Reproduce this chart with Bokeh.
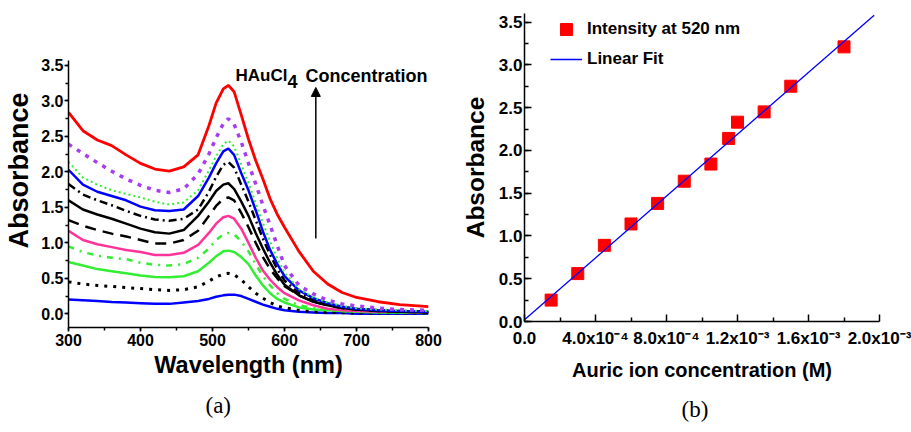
import math
from bokeh.plotting import figure
from bokeh.layouts import row, column
from bokeh.models import (Label, Arrow, NormalHead, SingleIntervalTicker, FixedTicker,
                          NumeralTickFormatter, CustomJSTickFormatter, Title)
from bokeh.embed import file_html
from bokeh.resources import INLINE

# ---------------- data: panel (a) UV-vis spectra ----------------
wavelength = [300, 320, 340, 360, 380, 400, 420, 440, 460, 480, 495, 505, 515, 522, 530,
              540, 550, 560, 570, 580, 590, 600, 620, 640, 660, 680, 700, 730, 760, 800]

abs_blue_low = [0.20, 0.19, 0.18, 0.165, 0.16, 0.15, 0.14, 0.14, 0.16, 0.18, 0.21, 0.24, 0.26, 0.27, 0.27,
                0.25, 0.21, 0.17, 0.13, 0.10, 0.07, 0.05, 0.03, 0.02, 0.01, 0.01, 0.0, 0.0, 0.0, 0.0]
abs_black_dot = [0.45, 0.42, 0.40, 0.385, 0.37, 0.355, 0.34, 0.33, 0.34, 0.38, 0.46, 0.52, 0.56, 0.57, 0.55,
                 0.48, 0.38, 0.29, 0.22, 0.16, 0.11, 0.085, 0.05, 0.03, 0.02, 0.015, 0.01, 0.01, 0.01, 0.01]
abs_green = [0.73, 0.68, 0.63, 0.60, 0.57, 0.54, 0.52, 0.515, 0.53, 0.60, 0.72, 0.81, 0.88, 0.89, 0.87,
             0.80, 0.70, 0.54, 0.40, 0.29, 0.21, 0.16, 0.09, 0.06, 0.05, 0.04, 0.03, 0.02, 0.02, 0.01]
abs_green_dashdot = [0.95, 0.87, 0.82, 0.79, 0.77, 0.72, 0.69, 0.68, 0.70, 0.79, 0.92, 1.04, 1.12, 1.14, 1.12,
                     1.02, 0.88, 0.70, 0.53, 0.40, 0.29, 0.21, 0.12, 0.08, 0.06, 0.04, 0.03, 0.03, 0.02, 0.02]
abs_pink = [1.17, 1.04, 0.98, 0.94, 0.90, 0.87, 0.83, 0.83, 0.86, 0.97, 1.14, 1.27, 1.36, 1.38, 1.34,
            1.20, 1.00, 0.79, 0.61, 0.48, 0.375, 0.29, 0.19, 0.12, 0.07, 0.05, 0.04, 0.03, 0.03, 0.02]
abs_black_dash = [1.32, 1.24, 1.18, 1.13, 1.09, 1.04, 0.99, 0.99, 1.04, 1.17, 1.38, 1.52, 1.62, 1.64, 1.60,
                  1.42, 1.22, 1.00, 0.80, 0.63, 0.50, 0.39, 0.26, 0.17, 0.12, 0.08, 0.06, 0.04, 0.03, 0.02]
abs_black = [1.60, 1.47, 1.40, 1.34, 1.27, 1.20, 1.15, 1.13, 1.18, 1.38, 1.58, 1.73, 1.82, 1.84, 1.76,
             1.58, 1.38, 1.14, 0.92, 0.72, 0.55, 0.41, 0.26, 0.17, 0.12, 0.08, 0.06, 0.04, 0.03, 0.02]
abs_black_dashdot = [1.83, 1.68, 1.60, 1.53, 1.45, 1.38, 1.33, 1.31, 1.34, 1.47, 1.72, 1.93, 2.10, 2.14, 2.06,
                     1.82, 1.58, 1.32, 1.06, 0.83, 0.63, 0.47, 0.29, 0.19, 0.13, 0.09, 0.07, 0.05, 0.04, 0.03]
abs_blue = [2.03, 1.82, 1.72, 1.66, 1.60, 1.51, 1.46, 1.45, 1.47, 1.66, 1.92, 2.12, 2.29, 2.33, 2.24,
            1.98, 1.74, 1.46, 1.16, 0.90, 0.70, 0.53, 0.33, 0.22, 0.15, 0.10, 0.07, 0.05, 0.04, 0.03]
abs_green_dot = [2.14, 1.92, 1.82, 1.74, 1.69, 1.64, 1.58, 1.54, 1.57, 1.74, 2.02, 2.22, 2.39, 2.44, 2.36,
                 2.10, 1.84, 1.56, 1.28, 1.02, 0.78, 0.58, 0.35, 0.23, 0.16, 0.11, 0.08, 0.06, 0.05, 0.04]
abs_purple_dot = [2.39, 2.26, 2.13, 2.01, 1.90, 1.81, 1.74, 1.71, 1.76, 1.97, 2.25, 2.48, 2.68, 2.75, 2.67,
                  2.42, 2.12, 1.83, 1.53, 1.25, 0.96, 0.68, 0.40, 0.28, 0.19, 0.14, 0.11, 0.08, 0.06, 0.05]
abs_red = [2.84, 2.58, 2.45, 2.37, 2.24, 2.12, 2.04, 2.01, 2.07, 2.24, 2.65, 2.97, 3.17, 3.22, 3.13,
           2.80, 2.46, 2.16, 1.90, 1.62, 1.40, 1.22, 0.88, 0.60, 0.42, 0.30, 0.23, 0.17, 0.13, 0.10]

# arrow annotation (wavelength, absorbance from -> to)
arrow_wl = 643.5
arrow_from = 1.06
arrow_to = 3.19

# ---------------- data: panel (b) calibration ----------------
conc_M = [1.5e-4, 3.0e-4, 4.5e-4, 6.0e-4, 7.5e-4, 9.0e-4, 1.05e-3, 1.15e-3, 1.2e-3, 1.35e-3, 1.5e-3, 1.8e-3]
intensity_520 = [0.25, 0.56, 0.89, 1.14, 1.38, 1.64, 1.84, 2.14, 2.33, 2.45, 2.75, 3.21]
fit_x = [0.0, 1.97e-3]
fit_y = [0.02, 3.58]
x_tick_values = [0.0, 4.0e-4, 8.0e-4, 1.2e-3, 1.6e-3, 2.0e-3]
x_tick_labels = ["0.0", "4.0x10\u207b\u2074", "8.0x10\u207b\u2074", "1.2x10\u207b\u00b3",
                 "1.6x10\u207b\u00b3", "2.0x10\u207b\u00b3"]
x_minor_values = [2.0e-4, 6.0e-4, 1.0e-3, 1.4e-3, 1.8e-3]

SANS = "Liberation Sans"
SERIF = "Liberation Serif"

# ======================= panel (a) =======================
p1 = figure(width=458, height=432, x_range=(300, 800), y_range=(-0.193, 4.232),
            output_backend="svg", toolbar_location=None,
            min_border_left=68, min_border_right=30, min_border_top=13, min_border_bottom=105)
p1.outline_line_color = None
p1.grid.visible = False

styles = [
    (abs_blue_low, "#0000ff", 2.5, "solid"),
    (abs_black_dot, "#000000", 3.0, "3 6"),
    (abs_green, "#33ee33", 2.5, "solid"),
    (abs_green_dashdot, "#33ee33", 2.5, "6 6 2 6"),
    (abs_pink, "#ff3399", 2.5, "solid"),
    (abs_black_dash, "#000000", 2.5, "11 7"),
    (abs_black, "#000000", 2.5, "solid"),
    (abs_black_dashdot, "#000000", 2.5, "8 4 2 4"),
    (abs_blue, "#0000ff", 2.5, "solid"),
    (abs_green_dot, "#33ee33", 2.0, "2 3"),
    (abs_purple_dot, "#a83cf0", 3.5, "4 6"),
    (abs_red, "#ff0000", 2.8, "solid"),
]
for ys, col, lw, dash in styles:
    p1.line(wavelength, ys, line_color=col, line_width=lw, line_dash=dash)

p1.add_layout(Arrow(end=NormalHead(size=9, fill_color="black", line_color="black"),
                    x_start=arrow_wl, y_start=arrow_from, x_end=arrow_wl, y_end=arrow_to,
                    line_width=1.5, line_color="black"))

def style_axis(ax, tin, tout, mtin, mtout, size):
    ax.axis_line_width = 1.5
    ax.axis_line_color = "black"
    ax.major_tick_line_width = 1.5
    ax.minor_tick_line_width = 1.5
    ax.major_tick_in = tin
    ax.major_tick_out = tout
    ax.minor_tick_in = mtin
    ax.minor_tick_out = mtout
    ax.major_label_text_font = SANS
    ax.major_label_text_font_style = "bold"
    ax.major_label_text_font_size = size
    ax.major_label_text_color = "black"
    ax.axis_label_text_font = SANS
    ax.axis_label_text_font_style = "bold"
    ax.axis_label_text_color = "black"

style_axis(p1.xaxis[0], 0, 4, 0, 3, "16px")
style_axis(p1.yaxis[0], 0, 4, 0, 3, "16px")
p1.xaxis.ticker = SingleIntervalTicker(interval=100, num_minor_ticks=2)
p1.yaxis.ticker = SingleIntervalTicker(interval=0.5, num_minor_ticks=2)
p1.yaxis.formatter = NumeralTickFormatter(format="0.0")
p1.yaxis.bounds = (-0.193, 3.57)
p1.xaxis.major_label_standoff = 2
p1.yaxis.major_label_standoff = 1
p1.yaxis.axis_label = "Absorbance"
p1.yaxis.axis_label_text_font_size = "27px"
p1.yaxis.axis_label_standoff = 4
p1.xaxis.axis_label = "Wavelength (nm)"
p1.xaxis.axis_label_text_font_size = "23.5px"
p1.xaxis.axis_label_standoff = 3
p1.add_layout(Title(text="(a)", align="left", offset=137, standoff=21,
                    text_font=SERIF, text_font_size="23px", text_font_style="normal",
                    text_color="black"), "below")

def lab(p, x, y, text, size):
    p.add_layout(Label(x=x, y=y, x_units="screen", y_units="screen", text=text,
                       text_font=SANS, text_font_size=size, text_font_style="bold",
                       text_align="left", text_baseline="alphabetic", text_color="black"))

lab(p1, 167, 252, "HAuCl", "17px")
lab(p1, 219, 246, "4", "18px")
lab(p1, 237, 252, "Concentration", "18px")

# ======================= panel (b) =======================
p2 = figure(width=453, height=432, x_range=(0, 2.0e-3), y_range=(0, 3.6),
            output_backend="svg", toolbar_location=None,
            min_border_left=62, min_border_right=32, min_border_top=13, min_border_bottom=111)
p2.outline_line_color = None
p2.grid.visible = False

p2.scatter(conc_M, intensity_520, marker="square", size=12, color="#ff0000",
           legend_label="Intensity at 520 nm")
p2.line(fit_x, fit_y, line_color="#0000ff", line_width=1.3, legend_label="Linear Fit")

style_axis(p2.xaxis[0], 7, 0, 4, 0, "17px")
style_axis(p2.yaxis[0], 7, 0, 4, 0, "17px")
p2.xaxis.ticker = FixedTicker(ticks=x_tick_values, minor_ticks=x_minor_values)
p2.xaxis.formatter = CustomJSTickFormatter(args=dict(labels=x_tick_labels),
                                           code="return labels[Math.round(tick / 4e-4)];")
p2.yaxis.ticker = SingleIntervalTicker(interval=0.5, num_minor_ticks=2)
p2.yaxis.formatter = NumeralTickFormatter(format="0.0")
p2.xaxis.major_label_standoff = 7
p2.yaxis.major_label_standoff = 2
p2.yaxis.axis_label = "Absorbance"
p2.yaxis.axis_label_text_font_size = "24.5px"
p2.yaxis.axis_label_standoff = 7
p2.xaxis.axis_label = "Auric ion concentration (M)"
p2.xaxis.axis_label_text_font_size = "20px"
p2.xaxis.axis_label_standoff = 8
p2.add_layout(Title(text="(b)", align="left", offset=157, standoff=22,
                    text_font=SERIF, text_font_size="23px", text_font_style="normal",
                    text_color="black"), "below")

leg = p2.legend[0]
leg.location = (26, 247)
leg.background_fill_alpha = 0
leg.border_line_alpha = 0
leg.padding = 0
leg.margin = 0
leg.spacing = -4
leg.glyph_width = 32
leg.glyph_height = 30
leg.label_height = 30
leg.label_standoff = 5
leg.label_text_font = SANS
leg.label_text_font_style = "bold"
leg.label_text_font_size = "17px"
leg.label_text_color = "black"

layout = row(column(p1), column(p2))
open("out.html", "w").write(file_html(layout, INLINE))
